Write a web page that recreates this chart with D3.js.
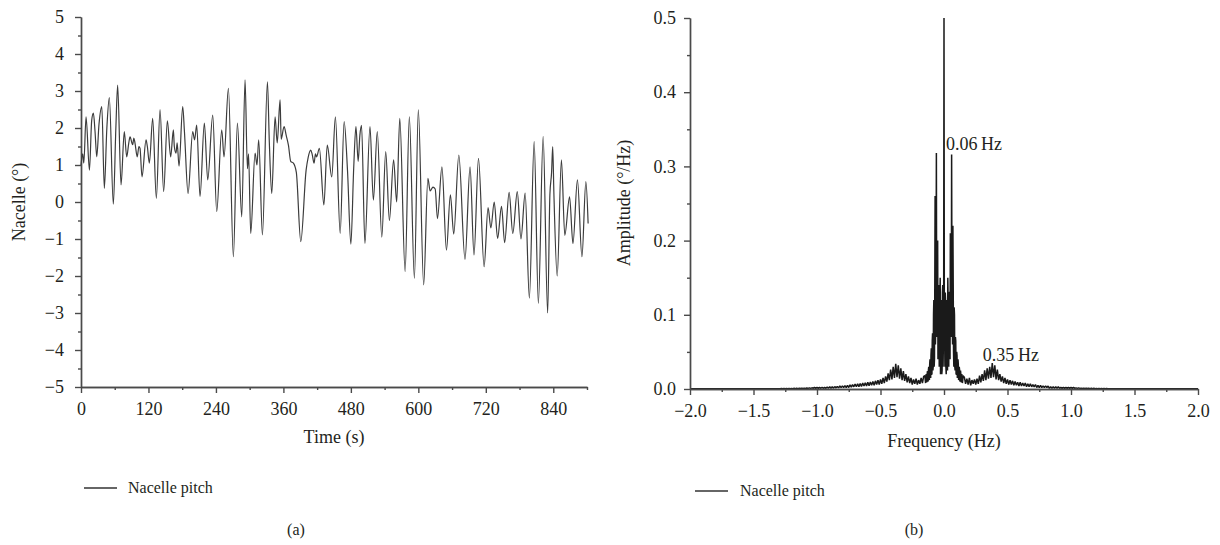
<!DOCTYPE html>
<html><head><meta charset="utf-8">
<script src="https://cdn.jsdelivr.net/npm/d3@7"></script>
<style>
body{margin:0;background:#fff}
svg{display:block}
text{font-family:"Liberation Serif","DejaVu Serif",serif;fill:#231f20}
</style>
</head><body>
<svg id="c" width="1220" height="545"></svg>
<script>
// ---------- Panel (a): nacelle pitch time series ----------
const timeS = [0,3,5,9,15,19,22,25,28,32,37,41.5,46,50.4,57.5,62,65.2,71.2,77,81.3,85,87.2,91.9,94,96,100,103,105,108.5,115.7,118,121.6,127.5,134,140.6,147,153.6,159.5,164.3,166,169,171,174.4,180.9,184,190.4,198.7,202,205.8,211.7,219.4,225.4,234.3,241.4,250.3,254.4,262.2,271,278.2,285.9,291.8,296,298,301.9,309.6,313,316.1,322.7,331.6,335,339.3,345.2,349,354.1,356,361.2,365,369,373,377.8,383,390.9,400.4,404,408.6,411,414.6,417,419,424,432,438,446,452.5,461,468,474,480,485,489,493,496,499,505,514,520,527,535,542,548.5,556,561.5,567,576.5,584,593,600,609.5,617,621,626,630,634,642,650,657,663,672,683,692,699,707,717,724,729,735,741,748,753.5,761.5,768,776,782.5,790,797.5,806,813.5,822,830,834,837,839,841,847,854.5,860.5,869,875,883,891,898,902];
const pitchDeg = [1.0,1.3,1.05,2.3,0.86,2.2,2.4,1.9,1.22,2.1,2.58,0.37,2.0,2.82,-0.06,2.0,3.16,0.46,1.9,1.22,1.6,1.76,1.55,1.73,1.6,1.22,1.5,1.45,0.68,1.68,1.5,1.05,2.26,0.1,2.5,0.28,2.19,1.22,1.95,1.5,1.32,1.6,0.97,2.58,1.9,0.23,1.9,1.68,2.08,0.15,2.13,0.6,2.35,-0.26,1.95,1.22,3.07,-1.48,2.13,-0.4,3.3,0.9,1.3,-0.85,1.32,1.0,1.68,-0.89,3.25,1.6,0.23,2.3,1.6,2.76,1.7,2.04,1.8,1.53,1.1,1.05,0.8,-1.07,0.86,1.2,1.4,1.3,1.05,1.3,1.22,1.45,-0.08,1.54,0.68,2.3,-0.85,2.17,0.86,-1.14,0.9,2.04,1.1,1.8,2.07,-1.12,2.04,0.05,1.9,-0.95,1.36,-0.5,1.14,0.0,2.26,-1.88,2.3,-2.06,2.49,-2.24,0.64,0.3,0.4,0.35,-0.45,0.95,-1.3,0.19,-0.87,1.27,-1.55,0.95,-1.43,1.18,-1.75,-0.15,-0.7,0.0,-0.98,-0.12,-1.1,0.26,-0.85,0.28,-1.0,0.24,-2.6,1.63,-2.74,1.77,-3.0,0.2,0.8,1.5,0.3,-2.0,1.14,-0.9,0.14,-1.12,0.6,-1.48,0.55,-0.58];
const timeTicks = [0,120,240,360,480,600,720,840];
const timeMinor = [60,180,300,420,540,660,780,900];
const pitchTicks = [-5,-4,-3,-2,-1,0,1,2,3,4,5];
const pitchMinor = [-4.5,-3.5,-2.5,-1.5,-0.5,0.5,1.5,2.5,3.5,4.5];

// ---------- Panel (b): amplitude spectrum ----------
// f = -1.30 ... -0.16 (step 0.01)
const specNegOuter = [0.0005,0.0003,0.0006,0.0004,0.0006,
 0.0004,0.0007,0.0004,0.0008,0.0004,0.0008,0.0005,0.0009,0.0005,0.001,
 0.0005,0.001,0.0006,0.0011,0.0006,0.0012,0.0007,0.0013,0.0008,0.0015,
 0.0008,0.0016,0.001,0.002,0.001,0.002,0.001,0.002,0.001,0.0022,
 0.001,0.002,0.001,0.0025,0.001,0.003,0.0012,0.003,0.0012,0.0032,
 0.0015,0.0035,0.0015,0.004,0.0018,0.004,0.002,0.0045,0.002,0.005,
 0.002,0.0055,0.0025,0.006,0.003,0.0065,0.003,0.007,0.003,0.0075,
 0.0035,0.008,0.004,0.0085,0.004,0.009,0.0045,0.0095,0.005,0.01,
 0.005,0.011,0.006,0.012,0.006,0.013,0.007,0.015,0.008,0.017,
 0.01,0.021,0.012,0.026,0.013,0.03,0.015,0.034,0.016,0.032,
 0.014,0.028,0.012,0.024,0.011,0.02,0.009,0.017,0.008,0.015,
 0.006,0.013,0.007,0.014,0.006,0.012,0.007,0.015,0.008,0.017];
// f = -0.1500 ... 0.1500 (step 0.0025)
const specCenter = [0.018,0.012,0.008,0.016,0.02,0.011,0.009,0.02,0.024,0.012,
 0.01,0.026,0.03,0.014,0.012,0.034,0.04,0.018,0.015,0.045,
 0.055,0.02,0.02,0.065,0.075,0.025,0.03,0.1,0.12,0.03,
 0.04,0.14,0.26,0.06,0.08,0.15,0.318,0.07,0.1,0.13,
 0.2,0.04,0.06,0.13,0.14,0.03,0.05,0.12,0.15,0.02,
 0.03,0.11,0.12,0.02,0.025,0.13,0.14,0.03,0.06,0.12,
 0.5,
 0.11,0.07,0.03,0.13,0.12,0.03,0.02,0.12,0.11,0.035,
 0.025,0.15,0.12,0.05,0.03,0.13,0.13,0.06,0.04,0.21,
 0.13,0.1,0.07,0.316,0.15,0.09,0.06,0.22,0.14,0.05,
 0.03,0.11,0.1,0.03,0.025,0.07,0.065,0.02,0.02,0.05,
 0.045,0.015,0.018,0.04,0.034,0.012,0.014,0.03,0.026,0.01,
 0.012,0.025,0.02,0.009,0.011,0.02,0.016,0.008,0.012,0.018];
// f = 0.16 ... 1.30 (step 0.01)
const specPosOuter = [0.016,0.007,0.014,0.006,0.015,0.005,0.012,0.007,0.013,0.006,
 0.014,0.007,0.018,0.009,0.02,0.011,0.025,0.012,0.028,0.014,
 0.03,0.015,0.035,0.016,0.032,0.013,0.026,0.012,0.02,0.01,
 0.017,0.008,0.015,0.007,0.013,0.006,0.012,0.006,0.011,0.005,
 0.01,0.005,0.009,0.004,0.009,0.004,0.008,0.004,0.008,0.003,
 0.007,0.003,0.007,0.003,0.006,0.003,0.006,0.002,0.005,0.002,
 0.005,0.002,0.004,0.002,0.004,0.002,0.004,0.001,0.003,0.001,
 0.003,0.001,0.003,0.001,0.003,0.001,0.002,0.001,0.002,0.001,
 0.002,0.001,0.002,0.001,0.002,0.001,0.002,0.001,0.0015,0.0008,
 0.0015,0.0008,0.0012,0.0007,0.0012,0.0006,0.001,0.0006,0.001,0.0005,
 0.001,0.0005,0.0009,0.0005,0.0008,0.0004,0.0008,0.0004,0.0007,0.0004,
 0.0006,0.0004,0.0006,0.0003,0.0005];
const specEdgeFreq = [-2.0, 2.0];
const specEdgeAmp = [0.0003, 0.0003];
const freqTicks = [-2,-1.5,-1,-0.5,0,0.5,1,1.5,2];
const freqMinor = [-1.75,-1.25,-0.75,-0.25,0.25,0.75,1.25,1.75];
const ampTicks = [0,0.1,0.2,0.3,0.4,0.5];
const ampMinor = [0.05,0.15,0.25,0.35,0.45];
const peakLabels = [{f:0.0, a:0.33, text:"0.06\u2009Hz"}, {f:0.29, a:0.046, text:"0.35\u2009Hz"}];

// ---------- build ----------
const svg = d3.select("#c");
const axisColor = "#4a4a4a";
const fs = 18;

function styleAxis(g){
  g.select(".domain").attr("stroke", axisColor).attr("stroke-width", 1.4);
  g.selectAll(".tick line").attr("stroke", axisColor).attr("stroke-width", 1.4);
  g.selectAll(".tick text").attr("font-size", fs).attr("fill", "#231f20")
   .style("font-family", '"Liberation Serif", serif');
}

// Panel a
const xA = d3.scaleLinear().domain([0, 900]).range([81, 587]);
const yA = d3.scaleLinear().domain([-5, 5]).range([387, 17]);

const gA = svg.append("g");
gA.append("g").attr("transform", `translate(0,${yA(-5)})`)
  .call(d3.axisBottom(xA).tickValues(timeMinor).tickSize(3).tickFormat("").tickSizeOuter(0))
  .call(styleAxis);
gA.append("g").attr("transform", `translate(0,${yA(-5)})`)
  .call(d3.axisBottom(xA).tickValues(timeTicks).tickSize(6).tickPadding(9).tickSizeOuter(0).tickFormat(d3.format("d")))
  .call(styleAxis);
gA.append("g").attr("transform", `translate(${xA(0)},0)`)
  .call(d3.axisLeft(yA).tickValues(pitchMinor).tickSize(3).tickFormat("").tickSizeOuter(0))
  .call(styleAxis);
gA.append("g").attr("transform", `translate(${xA(0)},0)`)
  .call(d3.axisLeft(yA).tickValues(pitchTicks).tickSize(6).tickPadding(11).tickSizeOuter(0).tickFormat(d3.format("d")))
  .call(styleAxis);

const seriesA = timeS.map((t, i) => [t, pitchDeg[i]]);
gA.append("path").datum(seriesA)
  .attr("fill", "none").attr("stroke", "#3c3c3c").attr("stroke-width", 1.2)
  .attr("d", d3.line().x(d => xA(d[0])).y(d => yA(d[1])).curve(d3.curveMonotoneX));

gA.append("text").attr("x", 334).attr("y", 443).attr("text-anchor", "middle").attr("font-size", fs).text("Time (s)");
gA.append("text").attr("transform", `translate(25,202) rotate(-90)`).attr("text-anchor", "middle").attr("font-size", fs).text("Nacelle (°)");
gA.append("line").attr("x1", 84).attr("x2", 117).attr("y1", 488).attr("y2", 488).attr("stroke", "#333").attr("stroke-width", 1.3);
gA.append("text").attr("x", 128).attr("y", 493).attr("font-size", 16).text("Nacelle pitch");
gA.append("text").attr("x", 296).attr("y", 535).attr("text-anchor", "middle").attr("font-size", 16).text("(a)");

// Panel b
const xB = d3.scaleLinear().domain([-2, 2]).range([690, 1198]);
const yB = d3.scaleLinear().domain([0, 0.5]).range([389, 18]);
const gB = svg.append("g");

const spec = [];
spec.push([specEdgeFreq[0], specEdgeAmp[0]]);
specNegOuter.forEach((a, i) => spec.push([Math.round((-1.30 + 0.01 * i) * 10000) / 10000, a]));
specCenter.forEach((a, i) => spec.push([Math.round((-0.15 + 0.0025 * i) * 10000) / 10000, a]));
specPosOuter.forEach((a, i) => spec.push([Math.round((0.16 + 0.01 * i) * 10000) / 10000, a]));
spec.push([specEdgeFreq[1], specEdgeAmp[1]]);

gB.append("path").datum(spec)
  .attr("fill", "none").attr("stroke", "#1a1a1a").attr("stroke-width", 1.5)
  .attr("stroke-linejoin", "bevel")
  .attr("d", d3.line().x(d => xB(d[0])).y(d => yB(d[1])));

gB.append("g").attr("transform", `translate(0,${yB(0)})`)
  .call(d3.axisBottom(xB).tickValues(freqMinor).tickSize(3).tickFormat("").tickSizeOuter(0))
  .call(styleAxis);
gB.append("g").attr("transform", `translate(0,${yB(0)})`)
  .call(d3.axisBottom(xB).tickValues(freqTicks).tickSize(6).tickPadding(9).tickSizeOuter(0).tickFormat(d3.format(".1f")))
  .call(styleAxis);
gB.append("g").attr("transform", `translate(${xB(-2)},0)`)
  .call(d3.axisLeft(yB).tickValues(ampMinor).tickSize(3).tickFormat("").tickSizeOuter(0))
  .call(styleAxis);
gB.append("g").attr("transform", `translate(${xB(-2)},0)`)
  .call(d3.axisLeft(yB).tickValues(ampTicks).tickSize(6).tickPadding(8).tickSizeOuter(0).tickFormat(d3.format(".1f")))
  .call(styleAxis);

gB.selectAll("text.peak").data(peakLabels).enter().append("text").attr("class", "peak")
  .attr("x", d => xB(d.f) + 2).attr("y", d => yB(d.a) + 6).attr("font-size", fs).text(d => d.text);

gB.append("text").attr("x", 944).attr("y", 447).attr("text-anchor", "middle").attr("font-size", fs).text("Frequency (Hz)");
gB.append("text").attr("transform", `translate(630,203) rotate(-90)`).attr("text-anchor", "middle").attr("font-size", fs).text("Amplitude (°/Hz)");
gB.append("line").attr("x1", 695).attr("x2", 728).attr("y1", 491).attr("y2", 491).attr("stroke", "#333").attr("stroke-width", 1.3);
gB.append("text").attr("x", 740).attr("y", 496).attr("font-size", 16).text("Nacelle pitch");
gB.append("text").attr("x", 914).attr("y", 535).attr("text-anchor", "middle").attr("font-size", 16).text("(b)");
</script>
</body></html>
